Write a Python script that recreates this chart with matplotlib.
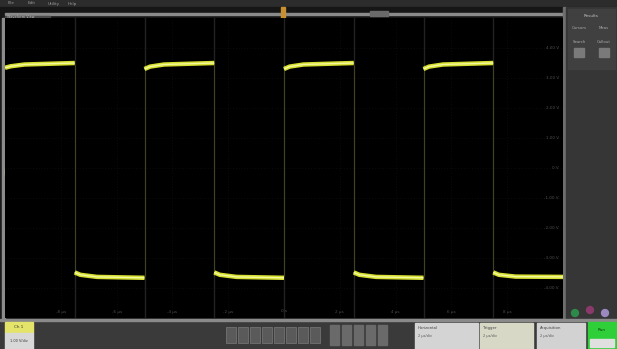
import numpy as np
import matplotlib.pyplot as plt
from matplotlib.patches import Rectangle

# waveform samples, time in divisions, level in divisions (1 V/div)
seg_t = [[0.0, 0.1, 0.35, 1.25], [1.25, 1.35, 1.65, 2.5], [2.5, 2.6, 2.85, 3.75],
         [3.75, 3.85, 4.15, 5.0], [5.0, 5.1, 5.35, 6.25], [6.25, 6.35, 6.65, 7.5],
         [7.5, 7.6, 7.85, 8.75], [8.75, 8.85, 9.15, 10.0]]
seg_v = [[3.34, 3.39, 3.45, 3.5], [-3.48, -3.56, -3.63, -3.66], [3.3, 3.38, 3.45, 3.5],
         [-3.48, -3.56, -3.63, -3.66], [3.3, 3.38, 3.45, 3.5], [-3.48, -3.56, -3.63, -3.66],
         [3.3, 3.38, 3.45, 3.5], [-3.48, -3.56, -3.62, -3.63]]
edge_t = [1.25, 2.5, 3.75, 5.0, 6.25, 7.5, 8.75]

volt_labels = ["4.00 V", "3.00 V", "2.00 V", "1.00 V", "0 V", "-1.00 V", "-2.00 V", "-3.00 V", "-4.00 V"]
time_labels = ["-8 µs", "-6 µs", "-4 µs", "-2 µs", "0 s", "2 µs", "4 µs", "6 µs", "8 µs"]
menu_items = ["File", "Edit", "Utility", "Help"]

W, H = 617, 349
fig = plt.figure(figsize=(W / 100, H / 100), dpi=100, facecolor="#1b1b1b")

# chrome (pixel coordinates)
bg = fig.add_axes([0, 0, 1, 1])
bg.set_xlim(0, W)
bg.set_ylim(H, 0)
bg.axis("off")
bg.add_patch(Rectangle((0, 0), W, 7, color="#2c2c2c"))
for i, m in enumerate(menu_items):
    bg.text(8 + i * 20, 3.5, m, color="#9a9a9a", fontsize=3, va="center")
bg.add_patch(Rectangle((0, 7), W, 12, color="#161616"))
bg.add_patch(Rectangle((5, 12.5), 558, 2.5, color="#8a8a8a"))
bg.add_patch(Rectangle((370, 10.5), 18, 5, color="#6a6a6a"))
bg.add_patch(Rectangle((5, 15.5), 45, 3, color="#4a4a4a"))
bg.text(7, 17, "Waveform View", color="#bbbbbb", fontsize=2.5, va="center")
bg.add_patch(Rectangle((2, 18), 3, 302, color="#8c8c8c"))
bg.add_patch(Rectangle((563, 7), 3, 313, color="#6e6e6e"))
bg.add_patch(Rectangle((566, 7), 51, 313, color="#363636"))
bg.add_patch(Rectangle((568, 9), 47, 60, color="#404040"))
bg.text(591, 16, "Results", color="#c0c0c0", fontsize=3, ha="center", va="center")
for x, s in [(579, "Cursors"), (604, "Meas")]:
    bg.text(x, 28, s, color="#aaaaaa", fontsize=2.8, ha="center", va="center")
for x, s in [(579, "Search"), (604, "Callout")]:
    bg.text(x, 42, s, color="#aaaaaa", fontsize=2.8, ha="center", va="center")
    bg.add_patch(Rectangle((x - 5, 48), 10, 9, color="#7a7a7a"))
bg.scatter([575, 590, 605], [313, 310, 313], s=25, c=["#2e8a4a", "#8a3a6a", "#9a8ac0"])

bg.add_patch(Rectangle((0, 320), W, 29, color="#3a3a3a"))
bg.add_patch(Rectangle((0, 319), W, 1.5, color="#8a8a8a"))
bg.add_patch(Rectangle((5, 322), 28, 11, color="#e4e46a"))
bg.add_patch(Rectangle((5, 333), 28, 16, color="#d8d8d8"))
bg.text(19, 327.5, "Ch 1", color="#333333", fontsize=3, ha="center", va="center")
bg.text(19, 341, "1.00 V/div", color="#333333", fontsize=2.5, ha="center", va="center")
for i in range(8):
    bg.add_patch(Rectangle((226 + i * 12, 327), 10, 16, color="#5a5a5a", ec="#7a7a7a", lw=0.5))
for i in range(5):
    bg.add_patch(Rectangle((330 + i * 12, 325), 9, 20, color="#6a6a6a"))
for x0, w, c, s in [(415, 63, "#d4d4d4", "Horizontal"), (480, 53, "#d8d8c6", "Trigger"),
                    (537, 48, "#d2d2d2", "Acquisition")]:
    bg.add_patch(Rectangle((x0, 323), w, 26, color=c))
    bg.text(x0 + 3, 328, s, color="#444444", fontsize=2.8, va="center")
    bg.text(x0 + 3, 336, "2 µs/div", color="#555555", fontsize=2.5, va="center")
bg.add_patch(Rectangle((588, 322), 28, 27, color="#2fcf3a"))
bg.add_patch(Rectangle((590, 339), 24, 8, color="#e0e0e0"))
bg.text(602, 330, "Run", color="#0a3a0a", fontsize=3, ha="center", va="center")

# scope display
ax = fig.add_axes([5 / W, 31 / H, 558 / W, 300 / H], facecolor="#000000")
ax.set_xlim(0, 10)
ax.set_ylim(-5, 5)
ax.set_xticks([])
ax.set_yticks([])
for sp in ax.spines.values():
    sp.set_visible(False)
for gx in range(1, 10):
    ax.axvline(gx, color="#161616", lw=0.5, ls=(0, (1, 3)))
for gy in range(-4, 5):
    ax.axhline(gy, color="#161616", lw=0.5, ls=(0, (1, 3)))
for t in edge_t:
    ax.axvline(t, color="#222222", lw=1.0)
    ax.vlines(t, -3.6, 3.45, color="#44441e", lw=0.7)
for t, v in zip(seg_t, seg_v):
    ax.plot(t, v, color="#d6e030", lw=3.2, solid_capstyle="butt", solid_joinstyle="round")
    ax.plot(t, v, color="#f4f8a0", lw=1.0, solid_capstyle="butt")
for i, lab in enumerate(volt_labels):
    ax.text(9.93, 4 - i, lab, color="#4e4e4e", fontsize=3, ha="right", va="center")
for i, lab in enumerate(time_labels):
    ax.text(1 + i, -4.85, lab, color="#4e4e4e", fontsize=3, ha="center", va="bottom")

# ground and trigger markers
bg.add_patch(Rectangle((5, 169), 11, 6, color="#e0e060"))
bg.add_patch(Rectangle((281, 7), 4, 12, color="#c89030"))

fig.savefig("out.png", dpi=100, facecolor=fig.get_facecolor())
